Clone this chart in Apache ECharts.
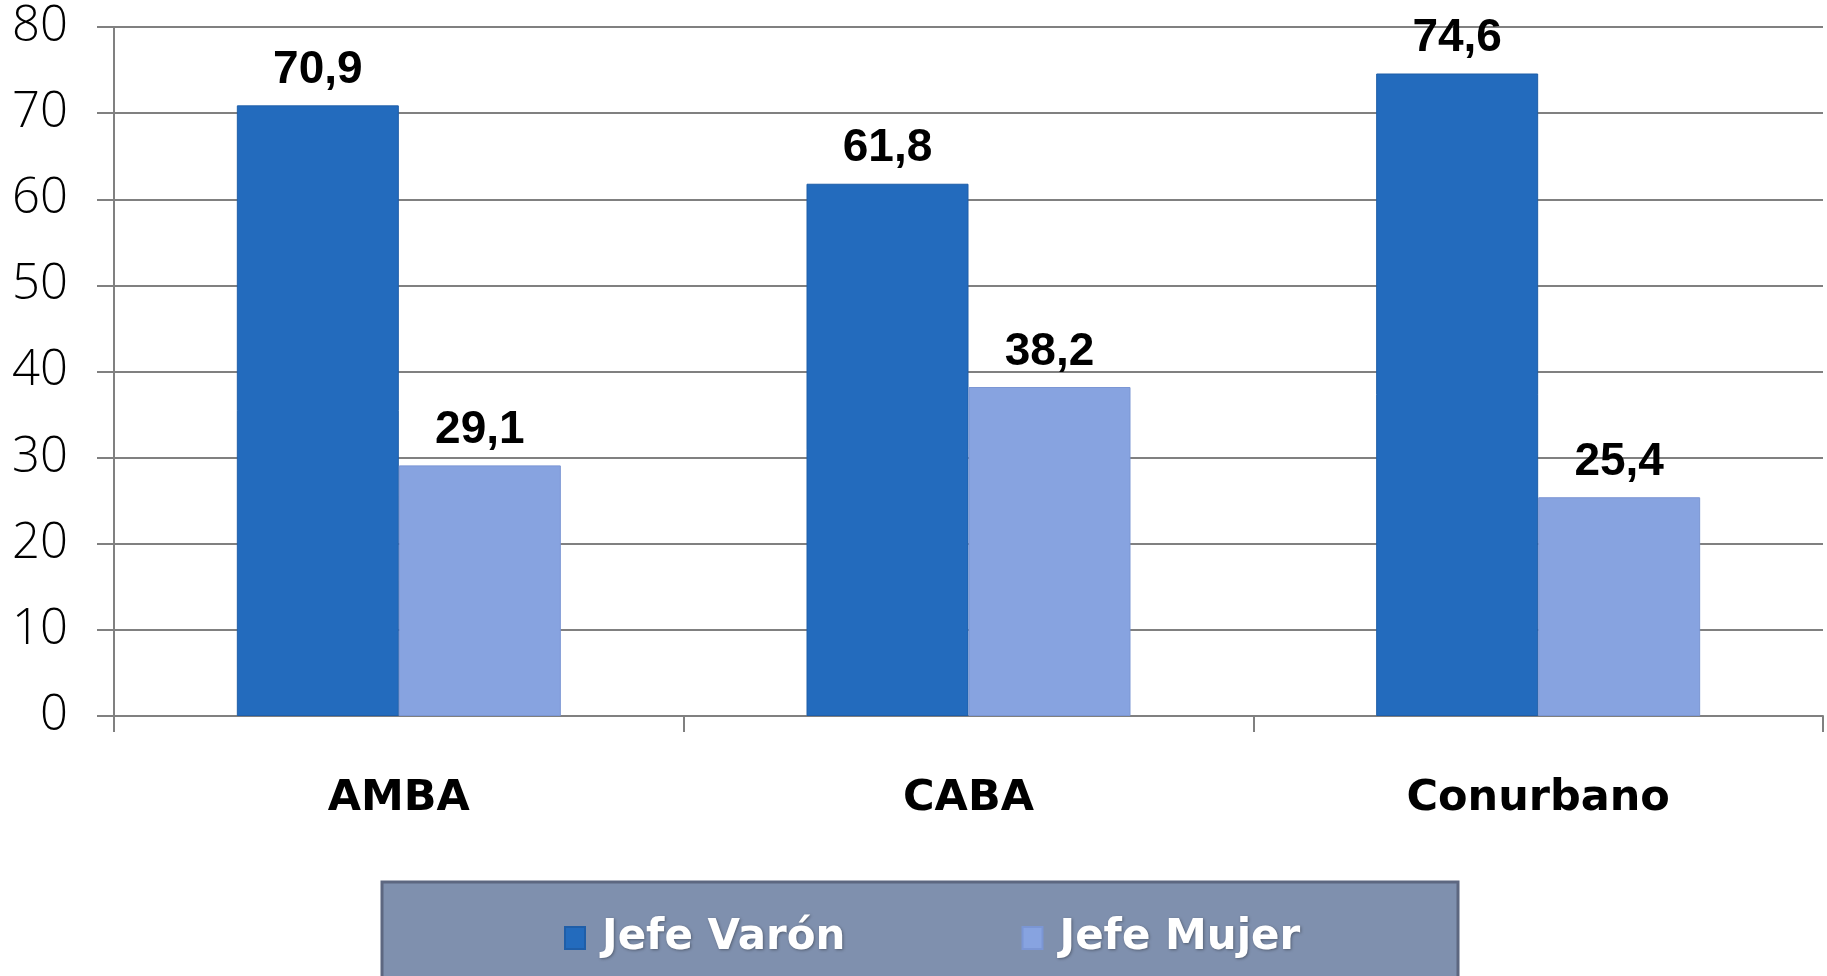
<!DOCTYPE html>
<html>
<head>
<meta charset="utf-8">
<script src="https://cdn.jsdelivr.net/npm/echarts@6/dist/echarts.min.js"></script>
<style>html,body{margin:0;padding:0;background:#fff;}#c{width:1827px;height:976px;}</style>
</head>
<body>
<div id="c"></div>
<script>
const categories = ['AMBA', 'CABA', 'Conurbano'];
const seriesNames = ['Jefe Varón', 'Jefe Mujer'];
const jefeVaron = [70.9, 61.8, 74.6];
const jefeMujer = [29.1, 38.2, 25.4];
const yTicks = { min: 0, max: 80, interval: 10 };

const chart = echarts.init(document.getElementById('c'));
const fmt = p => String(p.value).replace('.', ',');
const labelStyle = {
  show: true, position: 'top', distance: 12, formatter: fmt,
  fontFamily: 'Liberation Sans', fontWeight: 'bold', fontSize: 46, color: '#000'
};
chart.setOption({
  animation: false,
  grid: { left: 114, right: 4, top: 27, bottom: 260, containLabel: false },
  graphic: [{
    type: 'rect', shape: { x: 382, y: 882, width: 1076, height: 100 },
    style: { fill: '#7f90ae', stroke: '#5d6780', lineWidth: 3 }, z: -1
  }],
  legend: {
    left: 559, top: 912, itemWidth: 20, itemHeight: 22, itemGap: 176,
    icon: 'rect',
    textStyle: {
      color: '#fff', fontFamily: 'DejaVu Sans', fontWeight: 'bold', fontSize: 42,
      padding: [0, 0, 0, 12], textShadowColor: 'rgba(0,0,0,0.35)', textShadowBlur: 3,
      textShadowOffsetX: 1, textShadowOffsetY: 1
    }
  },
  xAxis: {
    type: 'category', data: categories,
    axisLine: { lineStyle: { color: '#808080', width: 2 } },
    axisTick: { show: true, length: 16, lineStyle: { color: '#808080', width: 2 } },
    axisLabel: {
      margin: 61, color: '#000', fontFamily: 'DejaVu Sans', fontWeight: 'bold', fontSize: 43
    }
  },
  yAxis: {
    type: 'value', min: yTicks.min, max: yTicks.max, interval: yTicks.interval,
    axisLine: { show: true, lineStyle: { color: '#808080', width: 2 } },
    axisTick: { show: true, length: 17, lineStyle: { color: '#808080', width: 2 } },
    splitLine: { show: true, lineStyle: { color: '#808080', width: 2 } },
    axisLabel: {
      margin: 46, color: '#000', fontFamily: 'Open Sans', fontWeight: 300, fontSize: 49
    }
  },
  series: [
    { name: seriesNames[0], type: 'bar', data: jefeVaron, barWidth: 162, barGap: '0%',
      itemStyle: { color: '#236bbd', borderColor: '#1f5ea8', borderWidth: 1 }, label: labelStyle },
    { name: seriesNames[1], type: 'bar', data: jefeMujer, barWidth: 162,
      itemStyle: { color: '#87a3e0', borderColor: '#7b96d4', borderWidth: 1 }, label: labelStyle }
  ]
});
</script>
</body>
</html>
